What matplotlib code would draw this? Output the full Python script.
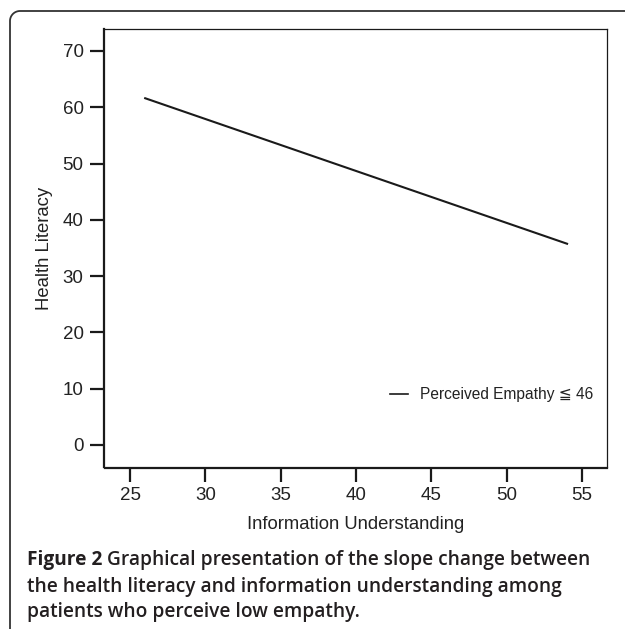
import numpy as np
import matplotlib
matplotlib.use("Agg")
import matplotlib.pyplot as plt
from matplotlib.lines import Line2D
from matplotlib.transforms import IdentityTransform

# ---- data ----
x_info = [26, 54]
y_health = [61.6, 35.75]
series_label = "Perceived Empathy \u2266 46"
x_ticks = [25, 30, 35, 40, 45, 50, 55]
y_ticks = [0, 10, 20, 30, 40, 50, 60, 70]
x_label = "Information Understanding"
y_label = "Health Literacy"
caption_bold = "Figure 2"
caption_rest = [" Graphical presentation of the slope change between",
                "the health literacy and information understanding among",
                "patients who perceive low empathy."]

W, H = 625, 629
DPI = 100
fig = plt.figure(figsize=(W / DPI, H / DPI), dpi=DPI)
fig.patch.set_facecolor("white")

chart_font = ["Liberation Sans", "DejaVu Sans"]
txt_col = "#222222"

# axes placement (pixels)
L, R, T, B = 104.5, 607, 29, 467.5
ax = fig.add_axes([L / W, 1 - B / H, (R - L) / W, (B - T) / H])
ax.plot(x_info, y_health, color="#1a1a1a", lw=1.5, label=series_label)
ax.set_xlim(23.3, 56.65)
ax.set_ylim(-4.0, 73.9)
ax.set_xticks(x_ticks)
ax.set_yticks(y_ticks)
for s in ["left", "bottom"]:
    ax.spines[s].set_linewidth(1.6)
for s in ["top", "right"]:
    ax.spines[s].set_linewidth(0.9)
for s in ax.spines.values():
    s.set_color("#1a1a1a")
ax.tick_params(axis="both", direction="out", length=10, width=1.6,
               color="#1a1a1a", labelsize=13.5, labelcolor=txt_col)
ax.tick_params(axis="y", pad=5)
ax.tick_params(axis="x", pad=4)
for lab in ax.get_xticklabels() + ax.get_yticklabels():
    lab.set_family(chart_font)
ax.set_xlabel(x_label, fontsize=13.3, family=chart_font, color=txt_col, labelpad=9)
ax.set_ylabel(y_label, fontsize=13.3, family=chart_font, color=txt_col, labelpad=7)

leg = ax.legend(loc="center right", bbox_to_anchor=(0.985, 0.166), frameon=False,
                handlelength=1.1, handletextpad=0.8, borderaxespad=0,
                prop={"family": chart_font, "size": 11.2})
for t in leg.get_texts():
    t.set_color(txt_col)
for h in leg.get_lines():
    h.set_linewidth(1.2)

# outer rounded frame (pixel coords, origin bottom-left)
r = 10
x0, ytop = 10, H - 11
th = np.linspace(np.pi / 2, np.pi, 20)
arc_x = (x0 + r) + r * np.cos(th)
arc_y = (ytop - r) + r * np.sin(th)
fx = np.concatenate([[W + 5], arc_x, [x0]])
fy = np.concatenate([[ytop], arc_y, [-5]])
fig.add_artist(Line2D(fx, fy, transform=IdentityTransform(), color="#333333", lw=1.3))

# caption
cap_font = ["Open Sans", "DejaVu Sans"]
cap_col = "#231f20"
cx = 27 / W
base = [565.5, 592, 617]
fs = 13.8
t0 = fig.text(cx, 1 - base[0] / H, caption_bold, family=cap_font, weight="bold",
              fontsize=fs, color=cap_col, va="baseline", ha="left")
ax.annotate(caption_rest[0], xy=(1, 0), xycoords=t0, va="bottom", ha="left",
            family=cap_font, weight="semibold", fontsize=fs, color=cap_col,
            annotation_clip=False)
for i in (1, 2):
    fig.text(cx, 1 - base[i] / H, caption_rest[i], family=cap_font, weight="semibold",
             fontsize=fs, color=cap_col, va="baseline", ha="left")

fig.savefig("out.png", dpi=DPI)
